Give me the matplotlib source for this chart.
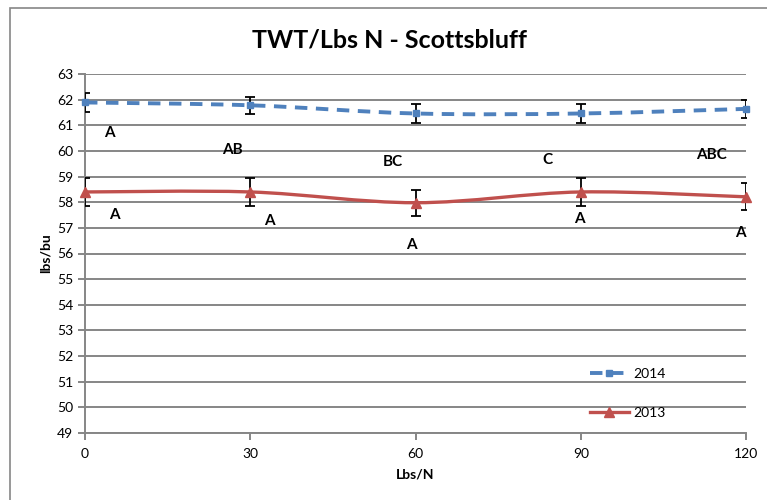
import numpy as np
import matplotlib
matplotlib.use("Agg")
import matplotlib.pyplot as plt
from matplotlib.path import Path
from matplotlib.patches import PathPatch, Rectangle
from matplotlib.lines import Line2D

plt.rcParams['font.family'] = ['Lato', 'DejaVu Sans']

# datos
lbs_n = [0, 30, 60, 90, 120]
twt_2014 = [61.89, 61.78, 61.46, 61.46, 61.64]
err_2014 = [0.37, 0.34, 0.37, 0.37, 0.36]
twt_2013 = [58.40, 58.40, 57.98, 58.40, 58.21]
err_2013 = [0.56, 0.56, 0.51, 0.56, 0.53]

letras_2014 = ['A', 'AB', 'BC', 'C', 'ABC']
letras_2013 = ['A', 'A', 'A', 'A', 'A']
# posicion de las letras (x, y en datos)
pos_2014 = [(4.4, 60.7), (26.7, 60.03), (55.9, 59.56), (83.9, 59.64), (113.8, 59.84)]
pos_2013 = [(5.4, 57.49), (33.4, 57.26), (59.2, 56.32), (89.7, 57.34), (118.9, 56.79)]

AZUL = '#4F81BD'
ROJO = '#C0504D'
GRIS = '#868686'


def curva_suave(x, y):
    # bezier tipo excel (catmull-rom)
    pts = np.column_stack([x, y]).astype(float)
    verts = [pts[0]]
    codes = [Path.MOVETO]
    n = len(pts)
    for i in range(n - 1):
        p0 = pts[i - 1] if i > 0 else pts[i]
        p1 = pts[i]
        p2 = pts[i + 1]
        p3 = pts[i + 2] if i + 2 < n else pts[i + 1]
        c1 = p1 + (p2 - p0) / 6.0
        c2 = p2 - (p3 - p1) / 6.0
        verts += [c1, c2, p2]
        codes += [Path.CURVE4] * 3
    return Path(verts, codes)


fig = plt.figure(figsize=(7.67, 5.0), dpi=100)
ax = fig.add_axes([85 / 767, 1 - 433 / 500, 661 / 767, 359 / 500])

# borde del area del grafico (recortado a derecha y abajo)
fig.patches.append(Rectangle((10 / 767, -0.1), 1.2, 1 - 8 / 500 + 0.1,
                             transform=fig.transFigure, fill=False,
                             edgecolor=GRIS, linewidth=1.2))

ax.add_patch(PathPatch(curva_suave(lbs_n, twt_2014), fill=False, edgecolor=AZUL,
                       linewidth=2.8, linestyle=(0, (3.2, 2.2)), zorder=3))
ax.add_patch(PathPatch(curva_suave(lbs_n, twt_2013), fill=False, edgecolor=ROJO,
                       linewidth=2.4, zorder=3))

ax.errorbar(lbs_n, twt_2014, yerr=err_2014, fmt='none', ecolor='black',
            elinewidth=1.3, capsize=3.5, capthick=1.3, zorder=4)
ax.errorbar(lbs_n, twt_2013, yerr=err_2013, fmt='none', ecolor='black',
            elinewidth=1.3, capsize=3.5, capthick=1.3, zorder=4)
ax.plot(lbs_n, twt_2014, linestyle='none', marker='s', markersize=4,
        color=AZUL, zorder=5, clip_on=False)
ax.plot(lbs_n, twt_2013, linestyle='none', marker='^', markersize=7,
        color=ROJO, zorder=5, clip_on=False)

for letra, (lx, ly) in zip(letras_2014, pos_2014):
    ax.text(lx, ly, letra, ha='center', va='center', fontsize=11,
            fontweight='bold', color='black')
for letra, (lx, ly) in zip(letras_2013, pos_2013):
    ax.text(lx, ly, letra, ha='center', va='center', fontsize=11,
            fontweight='bold', color='black')

ax.set_xlim(0, 120)
ax.set_ylim(49, 63)
ax.set_xticks(lbs_n)
ax.set_yticks(range(49, 64))
ax.grid(axis='y', color=GRIS, linewidth=1.4)
ax.set_axisbelow(True)
for lado in ['top', 'right']:
    ax.spines[lado].set_visible(False)
for lado in ['left', 'bottom']:
    ax.spines[lado].set_color(GRIS)
    ax.spines[lado].set_linewidth(1.4)
ax.tick_params(axis='both', colors=GRIS, labelcolor='black', labelsize=10,
               length=5, width=1.4, direction='out')
ax.tick_params(axis='x', pad=6)

ax.set_xlabel('Lbs/N', fontsize=10, fontweight='bold', labelpad=6)
ax.set_ylabel('lbs/bu', fontsize=10, fontweight='bold', labelpad=4)
fig.text(390 / 767, 1 - 40 / 500, 'TWT/Lbs N - Scottsbluff', ha='center',
         va='center', fontsize=18, fontweight='bold')

h14 = Line2D([], [], color=AZUL, linewidth=2.8, linestyle=(0, (3.2, 2.2)),
             marker='s', markersize=4)
h13 = Line2D([], [], color=ROJO, linewidth=2.4, marker='^', markersize=7)
ax.legend([h14, h13], ['2014', '2013'], loc='lower left',
          bbox_to_anchor=(0.745, 0.005), frameon=False, fontsize=10,
          labelspacing=1.9, handlelength=2.8, handletextpad=0.3)

fig.savefig('out.png', dpi=100)
